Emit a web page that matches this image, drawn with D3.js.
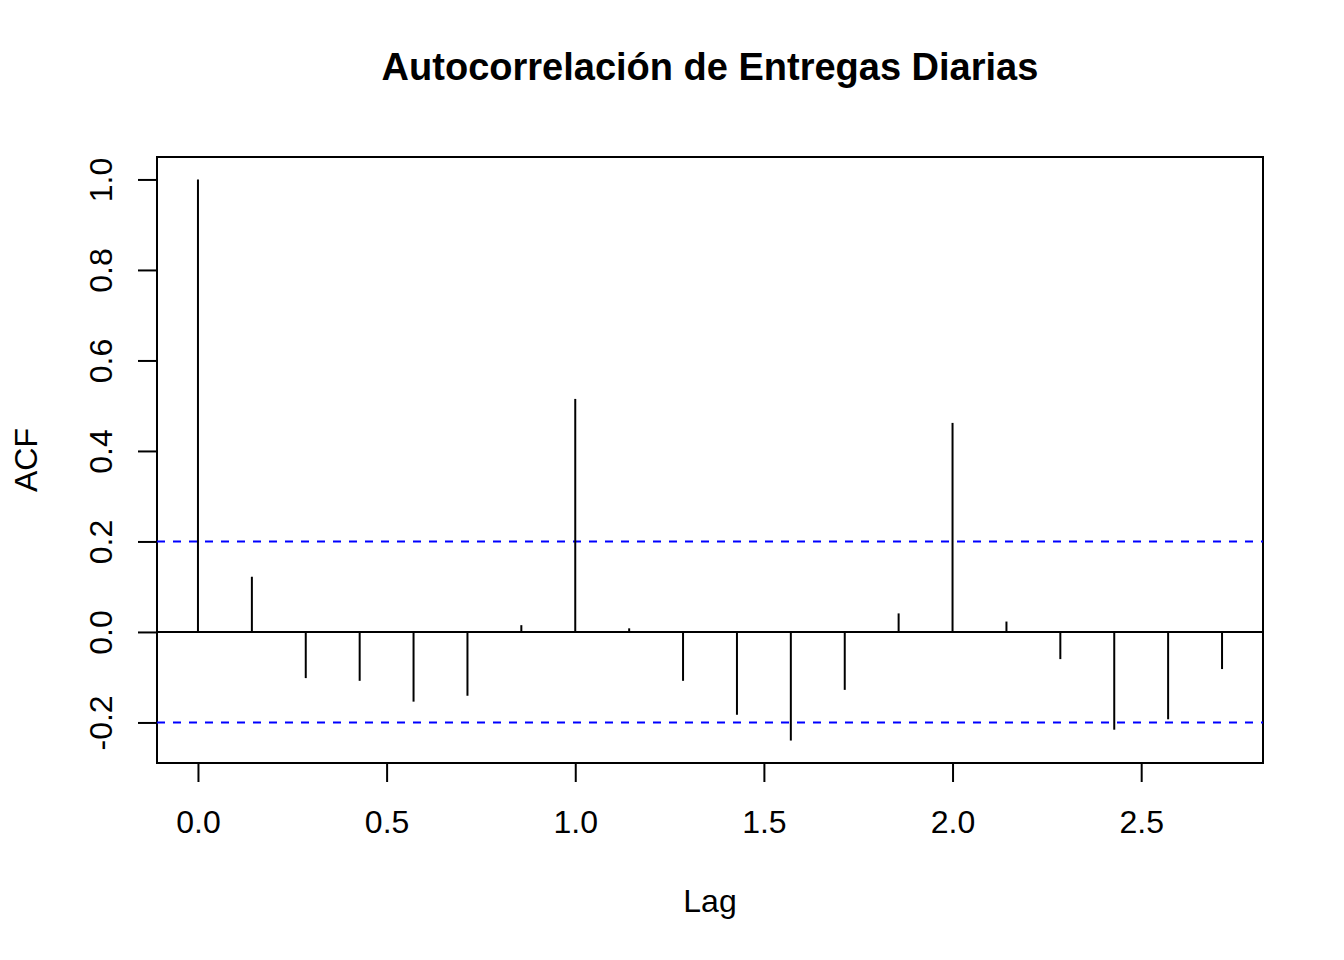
<!DOCTYPE html>
<html lang="es">
<head>
<meta charset="utf-8">
<title>Autocorrelación de Entregas Diarias</title>
<script src="https://cdn.jsdelivr.net/npm/d3@7"></script>
<style>
    html, body { margin: 0; padding: 0; background: #ffffff; }
    #chart text { font-family: "Liberation Sans", Arial, sans-serif; fill: #000; }
</style>
</head>
<body>
<div id="chart"></div>
<script>
// Datos: lags (en periodos, frecuencia 7) y valores de la ACF
const lags = [0.0000, 0.1429, 0.2857, 0.4286, 0.5714, 0.7143, 0.8571,
              1.0000, 1.1429, 1.2857, 1.4286, 1.5714, 1.7143, 1.8571,
              2.0000, 2.1429, 2.2857, 2.4286, 2.5714, 2.7143];
const acfValues = [1.000, 0.122, -0.102, -0.108, -0.154, -0.141, 0.015,
                   0.515, 0.008, -0.108, -0.183, -0.240, -0.128, 0.041,
                   0.462, 0.023, -0.060, -0.216, -0.193, -0.082];
const confLimit = 0.2;
const xTicks = [0.0, 0.5, 1.0, 1.5, 2.0, 2.5];
const yTicks = [-0.2, 0.0, 0.2, 0.4, 0.6, 0.8, 1.0];

const titleText = "Autocorrelación de Entregas Diarias";
const xLabel = "Lag";
const yLabel = "ACF";

// Dimensiones del lienzo y del área de trazado
const WIDTH = 1344;
const HEIGHT = 960;
const box = { left: 157, right: 1263, top: 157, bottom: 763 };
const TICK = 19;

const svg = d3.select("#chart")
    .append("svg")
    .attr("width", WIDTH)
    .attr("height", HEIGHT)
    .attr("viewBox", `0 0 ${WIDTH} ${HEIGHT}`);

// Rango de los ejes con la expansión del 4% típica de R
function padded(lo, hi) {
    const d = (hi - lo) * 0.04;
    return [lo - d, hi + d];
}
const xDom = padded(d3.min(lags), d3.max(lags));
const yDom = padded(Math.min(-confLimit, d3.min(acfValues)), Math.max(confLimit, d3.max(acfValues)));

const x = d3.scaleLinear().domain(xDom).range([box.left, box.right]);
const y = d3.scaleLinear().domain(yDom).range([box.bottom, box.top]);

// Formato con guion simple, como R (no el signo menos tipográfico de d3)
const fmt = d => d.toFixed(1);

// Eje X
const xAxis = svg.append("g")
    .attr("transform", `translate(0,${box.bottom})`)
    .call(d3.axisBottom(x).tickValues(xTicks).tickSize(TICK).tickSizeOuter(0)
        .tickFormat(fmt));
xAxis.select(".domain")
    .attr("d", `M${x(xTicks[0])},0H${x(xTicks[xTicks.length - 1])}`)
    .attr("stroke", "#000").attr("stroke-width", 2);
xAxis.selectAll(".tick line").attr("stroke", "#000").attr("stroke-width", 2);
xAxis.selectAll(".tick text")
    .attr("y", 70).attr("dy", null)
    .style("font-size", "32px");

// Eje Y (etiquetas giradas como en R)
const yAxis = svg.append("g")
    .attr("transform", `translate(${box.left},0)`)
    .call(d3.axisLeft(y).tickValues(yTicks).tickSize(TICK).tickSizeOuter(0)
        .tickFormat(fmt));
yAxis.select(".domain")
    .attr("d", `M0,${y(yTicks[0])}V${y(yTicks[yTicks.length - 1])}`)
    .attr("stroke", "#000").attr("stroke-width", 2);
yAxis.selectAll(".tick line").attr("stroke", "#000").attr("stroke-width", 2);
yAxis.selectAll(".tick text")
    .attr("x", null).attr("dy", null)
    .attr("text-anchor", "middle")
    .attr("transform", "translate(-45,0) rotate(-90)")
    .style("font-size", "32px");

// Marco del gráfico
svg.append("rect")
    .attr("x", box.left)
    .attr("y", box.top)
    .attr("width", box.right - box.left)
    .attr("height", box.bottom - box.top)
    .attr("fill", "none")
    .attr("stroke", "#000")
    .attr("stroke-width", 2);

// Línea horizontal en cero
svg.append("line")
    .attr("x1", box.left).attr("x2", box.right)
    .attr("y1", y(0)).attr("y2", y(0))
    .attr("stroke", "#000")
    .attr("stroke-width", 2);

// Bandas de confianza
svg.selectAll("line.conf")
    .data([confLimit, -confLimit])
    .enter()
    .append("line")
    .attr("class", "conf")
    .attr("x1", box.left).attr("x2", box.right)
    .attr("y1", d => y(d)).attr("y2", d => y(d))
    .attr("stroke", "#0000ff")
    .attr("stroke-width", 2)
    .attr("stroke-dasharray", "8,8");

// Barras verticales de la ACF (tipo "h")
svg.selectAll("line.acf")
    .data(lags.map((lag, i) => ({ lag, value: acfValues[i] })))
    .enter()
    .append("line")
    .attr("class", "acf")
    .attr("x1", d => x(d.lag)).attr("x2", d => x(d.lag))
    .attr("y1", y(0)).attr("y2", d => y(d.value))
    .attr("stroke", "#000")
    .attr("stroke-width", 2);

// Títulos
svg.append("text")
    .attr("x", (box.left + box.right) / 2)
    .attr("y", 80)
    .attr("text-anchor", "middle")
    .style("font-size", "38px")
    .style("font-weight", "bold")
    .text(titleText);

svg.append("text")
    .attr("x", (box.left + box.right) / 2)
    .attr("y", 912)
    .attr("text-anchor", "middle")
    .style("font-size", "32px")
    .text(xLabel);

svg.append("text")
    .attr("transform", `translate(37,${(box.top + box.bottom) / 2}) rotate(-90)`)
    .attr("text-anchor", "middle")
    .style("font-size", "32px")
    .text(yLabel);
</script>
</body>
</html>
